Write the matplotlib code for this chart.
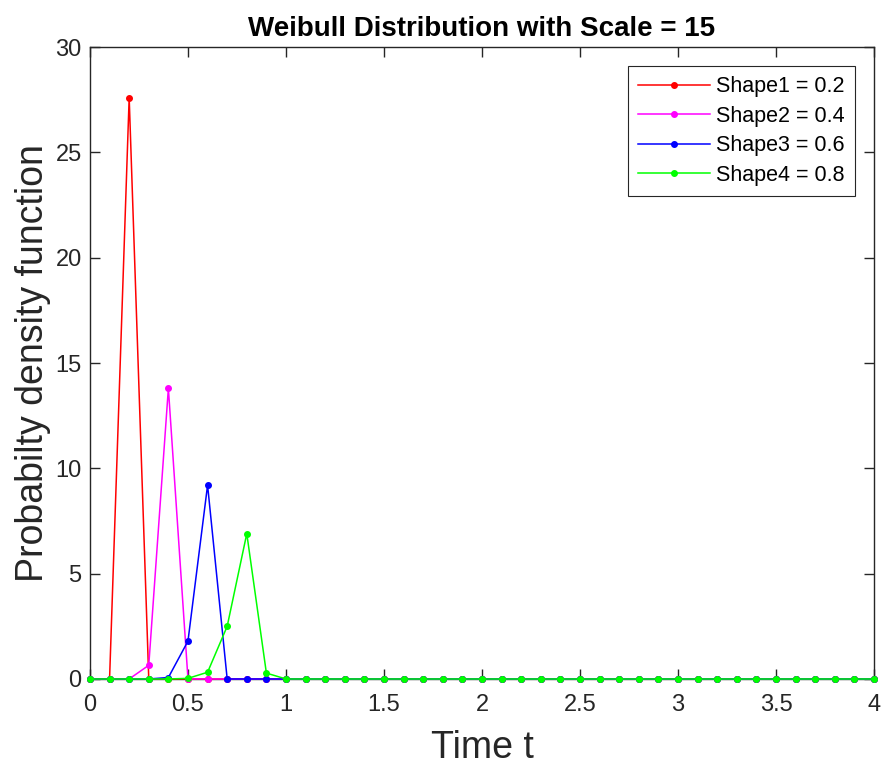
import matplotlib.pyplot as plt
import numpy as np

plt.rcParams['font.family'] = ['Liberation Sans', 'DejaVu Sans']

# time grid 0:0.1:4
t = np.round(np.arange(0, 41) * 0.1, 1)

# pdf values, zero outside the listed points
pdf1 = np.zeros(41)
pdf1[2] = 27.6

pdf2 = np.zeros(41)
pdf2[3] = 0.65
pdf2[4] = 13.8

pdf3 = np.zeros(41)
pdf3[4] = 0.07
pdf3[5] = 1.8
pdf3[6] = 9.2

pdf4 = np.zeros(41)
pdf4[5] = 0.03
pdf4[6] = 0.32
pdf4[7] = 2.5
pdf4[8] = 6.9
pdf4[9] = 0.28

labels = ['Shape1 = 0.2', 'Shape2 = 0.4', 'Shape3 = 0.6', 'Shape4 = 0.8']
colors = ['#ff0000', '#ff00ff', '#0000ff', '#00ff00']

fig = plt.figure(figsize=(8.82, 7.66), dpi=100)
ax = fig.add_axes([0.102, 0.1136, 0.889, 0.825])

for y, lab, c in zip([pdf1, pdf2, pdf3, pdf4], labels, colors):
    ax.plot(t, y, '.-', color=c, label=lab, linewidth=1.1, markersize=8,
            clip_on=False, zorder=3)

ax.set_xlim(0, 4)
ax.set_ylim(0, 30)
ax.set_xticks(np.arange(0, 4.01, 0.5))
ax.set_xticklabels(['0', '0.5', '1', '1.5', '2', '2.5', '3', '3.5', '4'])
ax.set_yticks(np.arange(0, 31, 5))

gray = '#262626'
for s in ax.spines.values():
    s.set_color(gray)
    s.set_linewidth(1.0)
ax.tick_params(direction='in', top=True, right=True, length=7, width=1.0,
               colors=gray, labelsize=17)
ax.tick_params(axis='x', pad=11)
ax.tick_params(axis='y', pad=6)

ax.set_xlabel('Time t', fontsize=27, color=gray, labelpad=10)
ax.set_ylabel('Probabilty density function', fontsize=27, color=gray, labelpad=3)
ax.set_title('Weibull Distribution with Scale = 15', fontsize=20, fontweight='bold', pad=8)

leg = ax.legend(loc='upper right', fontsize=15.5, fancybox=False, framealpha=1,
                edgecolor=gray, borderaxespad=0.9, handlelength=3.35,
                handletextpad=0.3, labelspacing=0.4, borderpad=0.45)
leg.get_frame().set_linewidth(0.8)
leg.set_zorder(5)

fig.savefig('out.png', dpi=100)
